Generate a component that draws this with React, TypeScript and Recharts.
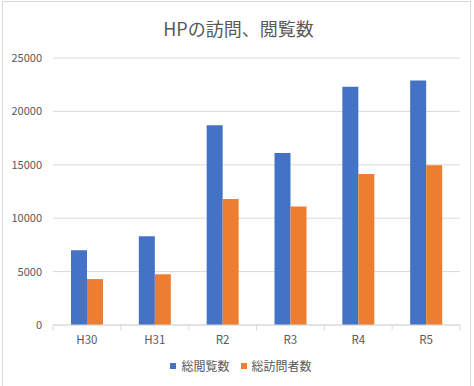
import { BarChart, Bar, XAxis, YAxis, CartesianGrid, Legend } from 'recharts';

const categories = ['H30', 'H31', 'R2', 'R3', 'R4', 'R5'];
const pageViews = [7000, 8300, 18700, 16100, 22300, 22900];
const visitors = [4300, 4750, 11800, 11100, 14150, 14950];
const yTicks = [0, 5000, 10000, 15000, 20000, 25000];

const data = categories.map((name, i) => ({
  name,
  総閲覧数: pageViews[i],
  総訪問者数: visitors[i],
}));

const FONT = "'Noto Sans CJK JP', 'Noto Sans', sans-serif";
const TEXT = '#595959';
const GRID = '#d9d9d9';

// category label plus Excel-style tick marks on the band edges
function CategoryTick(props: any) {
  const { x, y, payload, index, visibleTicksCount } = props;
  const half = payload?.offset ?? 0;
  const last = index === (visibleTicksCount ?? categories.length) - 1;
  return (
    <g>
      <line x1={x - half} x2={x - half} y1={y} y2={y + 5} stroke={GRID} />
      {last && <line x1={x + half} x2={x + half} y1={y} y2={y + 5} stroke={GRID} />}
      <text x={x} y={y + 19} textAnchor="middle" fontSize={11.5} fill={TEXT} fontFamily={FONT}>
        {payload.value}
      </text>
    </g>
  );
}

function LegendContent({ payload }: any) {
  return (
    <div style={{ display: 'flex', justifyContent: 'center', gap: 11, paddingLeft: 22, fontSize: 12, color: TEXT, lineHeight: '21px' }}>
      {(payload || []).map((p: any) => (
        <div key={p.value} style={{ display: 'flex', alignItems: 'center' }}>
          <span style={{ width: 6, height: 6, background: p.color, marginRight: 5, display: 'inline-block' }} />
          <span>{p.value}</span>
        </div>
      ))}
    </div>
  );
}

export default function App() {
  return (
    <div style={{ position: 'absolute', left: 0, top: 0, width: 474, height: 386, background: '#fff', fontFamily: FONT }}>
      <div
        style={{
          position: 'absolute',
          left: 2,
          top: 1,
          width: 467,
          height: 390,
          borderLeft: `1px solid ${GRID}`,
          borderTop: `1px solid ${GRID}`,
          borderRight: `1px solid ${GRID}`,
        }}
      />
      <div
        style={{
          position: 'absolute',
          left: 0,
          top: 15,
          width: 477,
          textAlign: 'center',
          fontSize: 18,
          color: TEXT,
          lineHeight: '26px',
        }}
      >
        HPの訪問、閲覧数
      </div>
      <div style={{ position: 'absolute', left: 0, top: 0 }}>
        <BarChart
          width={474}
          height={386}
          data={data}
          margin={{ top: 58, right: 14, left: 0, bottom: 10 }}
          barCategoryGap={18}
          barGap={0}
        >
          <CartesianGrid stroke={GRID} vertical={false} />
          <XAxis
            dataKey="name"
            height={30}
            tick={<CategoryTick />}
            tickLine={false}
            tickSize={0}
            tickMargin={0}
            interval={0}
            axisLine={{ stroke: GRID }}
          />
          <YAxis
            width={53}
            domain={[0, 25000]}
            ticks={yTicks}
            tick={{ fontSize: 11, fill: TEXT, fontFamily: FONT }}
            tickLine={false}
            tickSize={0}
            tickMargin={11}
            axisLine={false}
          />
          <Legend height={21} itemSorter={null} content={<LegendContent />} />
          <Bar dataKey="総閲覧数" fill="#4472C4" isAnimationActive={false} />
          <Bar dataKey="総訪問者数" fill="#ED7D31" isAnimationActive={false} />
        </BarChart>
      </div>
    </div>
  );
}
